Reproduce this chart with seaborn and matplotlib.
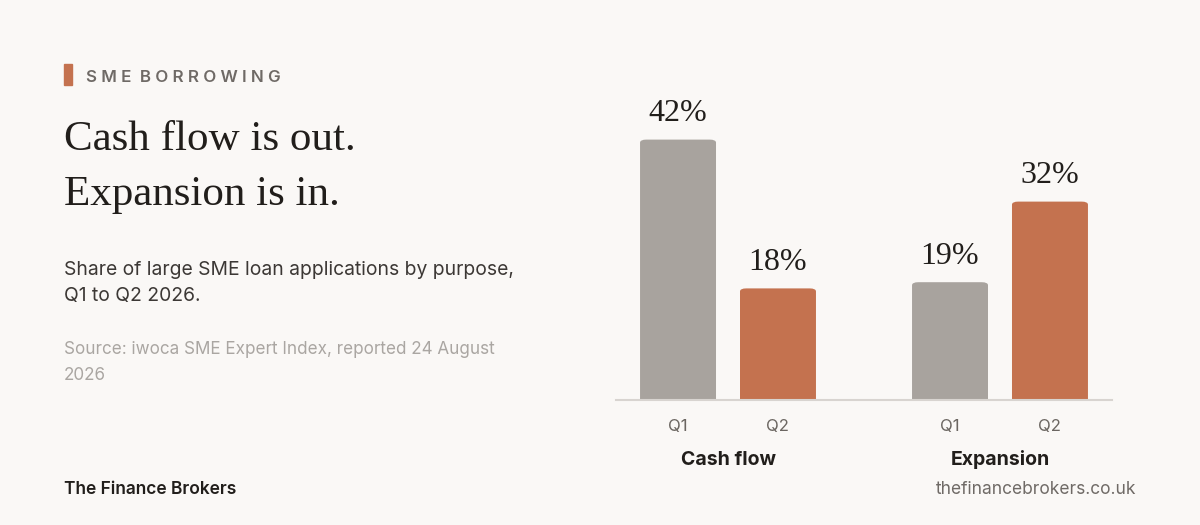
import matplotlib
matplotlib.use("Agg")
import matplotlib.pyplot as plt
from matplotlib.patches import FancyBboxPatch
from matplotlib.transforms import blended_transform_factory
import seaborn as sns
import pandas as pd

categories = ["Cash flow", "Expansion"]
quarters = ["Q1", "Q2"]
q1_values = [42, 19]
q2_values = [18, 32]

BG = "#faf8f6"
GREY = "#a8a39e"
ORANGE = "#c4724f"
DARK = "#211e1b"

rows = []
for c, a, b in zip(categories, q1_values, q2_values):
    rows.append({"purpose": c, "quarter": "Q1", "share": a})
    rows.append({"purpose": c, "quarter": "Q2", "share": b})
df = pd.DataFrame(rows)

sns.set_theme(style="white")
plt.rcParams["font.family"] = ["Inter", "DejaVu Sans"]

fig = plt.figure(figsize=(12, 5.25), dpi=100, facecolor=BG)
ax = fig.add_axes([616 / 1200, 1 - 400 / 525, 496 / 1200, 310 / 525])
ax.set_facecolor(BG)

sns.barplot(data=df, x="purpose", y="share", hue="quarter", order=categories,
            hue_order=quarters, palette=[GREY, ORANGE], width=0.735, gap=0.24,
            ax=ax, legend=False, saturation=1)

ax.set_xlim(-0.4118, 1.4118)
ax.set_ylim(0, 50)
for s in ["top", "right", "left"]:
    ax.spines[s].set_visible(False)
ax.spines["bottom"].set_color("#d8d4d0")
ax.spines["bottom"].set_linewidth(1.5)
ax.spines["bottom"].set_zorder(5)
ax.set_yticks([])
ax.set_xlabel("")
ax.set_ylabel("")

# value labels
for cont in ax.containers:
    ax.bar_label(cont, labels=[f"{v:.0f}%" for v in cont.datavalues], padding=8,
                 fontsize=23, family=["Liberation Serif"], color=DARK)

# rounded top corners (replace each bar with a rounded patch of the same geometry)
px_x = 496 / (1.4118 * 2 + 1) / 1  # pixels per x unit
px_y = 310 / 50
r = 3.0
for cont in ax.containers:
    for p in cont.patches:
        x0, w, h = p.get_x(), p.get_width(), p.get_height()
        rp = FancyBboxPatch((x0, -2), w, h + 2,
                            boxstyle=f"round,pad=0,rounding_size={r / px_x}",
                            mutation_aspect=(px_x / px_y),
                            facecolor=p.get_facecolor(), edgecolor="none",
                            clip_on=True, zorder=2)
        ax.add_patch(rp)
        p.set_visible(False)

# quarter tick labels under each bar
centers, qlabels = [], []
for cont, q in zip(ax.containers, quarters):
    for p in cont.patches:
        centers.append(p.get_x() + p.get_width() / 2)
        qlabels.append(q)
ax.set_xticks(centers, minor=True)
ax.set_xticklabels(qlabels, minor=True, fontsize=12, color="#6b6661")
ax.tick_params(axis="x", which="minor", length=0, pad=14)
ax.set_xticks(range(len(categories)))
ax.set_xticklabels([])
ax.tick_params(axis="x", which="major", length=0)
trans = blended_transform_factory(ax.transData, fig.transFigure)
for i, c in enumerate(categories):
    ax.text(i, 1 - 465 / 525, c, transform=trans, ha="center", va="baseline",
            fontsize=14, fontweight="bold", color=DARK)

# left text block
fig.patches.append(plt.Rectangle((64 / 1200, 1 - 85 / 525), 8 / 1200, 21 / 525,
                                 transform=fig.transFigure, color=ORANGE))
fig.text(86 / 1200, 1 - 77 / 525, "S M E  B O R R O W I N G",
         fontsize=12.2, fontweight="semibold", color="#6f6a66", va="center")
fig.text(64 / 1200, 1 - 150 / 525, "Cash flow is out.", fontsize=31,
         family=["Liberation Serif"], color=DARK, va="baseline")
fig.text(64 / 1200, 1 - 205 / 525, "Expansion is in.", fontsize=31,
         family=["Liberation Serif"], color=DARK, va="baseline")
fig.text(64 / 1200, 1 - 270 / 525, "Share of large SME loan applications by purpose,",
         fontsize=13.9, color="#3c3835", va="center")
fig.text(64 / 1200, 1 - 296 / 525, "Q1 to Q2 2026.", fontsize=13.9, color="#3c3835",
         va="center")
fig.text(64 / 1200, 1 - 350 / 525, "Source: iwoca SME Expert Index, reported 24 August",
         fontsize=12.3, color="#aaa6a2", va="center")
fig.text(64 / 1200, 1 - 375 / 525, "2026", fontsize=12.3, color="#aaa6a2", va="center")
fig.text(64 / 1200, 1 - 490 / 525, "The Finance Brokers", fontsize=12.5,
         fontweight="semibold", color=DARK, va="center")
fig.text(1136 / 1200, 1 - 490 / 525, "thefinancebrokers.co.uk", fontsize=12.5,
         color="#6f6a66", va="center", ha="right")

fig.savefig("out.png", dpi=100, facecolor=BG)
